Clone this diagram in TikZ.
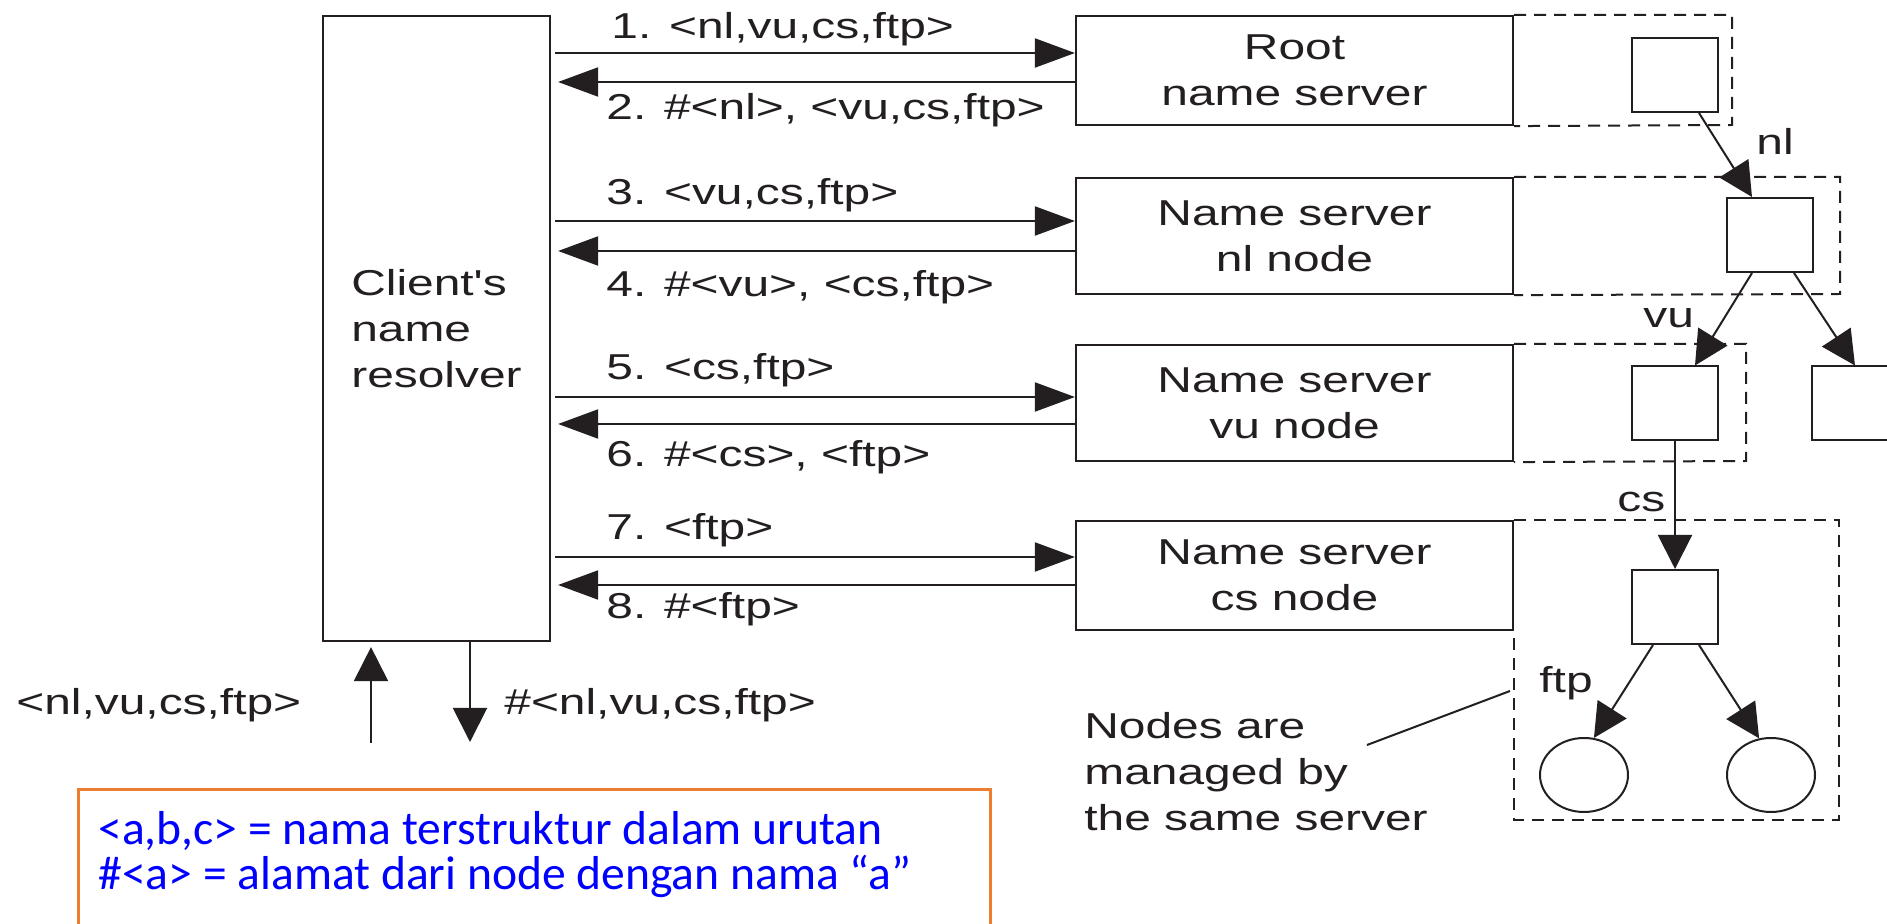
\documentclass[tikz,border=0pt]{standalone}
\usepackage{fontspec}
\setmainfont{Liberation Sans}
\newfontfamily\diagfont[FakeStretch=1.33]{Liberation Sans}
\newfontfamily\notefont{Carlito}
\usetikzlibrary{arrows.meta,shapes.geometric}
\definecolor{ink}{HTML}{231F20}
\definecolor{noteblue}{HTML}{0000FF}
\definecolor{noteorange}{HTML}{ED7D31}

\begin{document}
\begin{tikzpicture}[x=0.5pt,y=-0.5pt,
  diag/.style={font=\diagfont\fontsize{18}{23}\selectfont, text=ink},
  lbl/.style={diag, inner sep=0pt},
  box/.style={draw=ink, line width=1.1pt, diag, inner sep=0pt},
  srv/.style={box, minimum width=218.5pt, align=center},
  tnode/.style={draw=ink, line width=1pt, minimum width=43pt, minimum height=37pt, inner sep=0pt},
  leaf/.style={draw=ink, line width=1pt, ellipse, minimum width=44pt, minimum height=37pt, inner sep=0pt},
  harr/.style={draw=ink, line width=1pt, -{Triangle[length=20pt,width=14.5pt]}},
  varr/.style={draw=ink, line width=1pt, -{Triangle[length=17pt,width=17pt]}},
  grp/.style={draw=ink, line width=1pt, dash pattern=on 6pt off 4pt},
  note/.style={font=\notefont\fontsize{23.8}{22.5}\selectfont, text=noteblue, inner sep=0pt}]

\useasboundingbox (0,0) rectangle (1887,924);
\fill[white] (0,0) rectangle (1887,924);
\clip (0,0) rectangle (1887,924);

% client resolver
\node[box, minimum width=113.5pt, minimum height=312.5pt, align=left] (client) at (436.5,328.5) {Client's\\name\\resolver};

% name servers
\node[srv, minimum height=54.5pt] (root)  at (1294.5,70.5)  {Root\\name server};
\node[srv, minimum height=58pt]   (nlsrv) at (1294.5,236)   {Name server\\nl node};
\node[srv, minimum height=58pt]   (vusrv) at (1294.5,403)   {Name server\\vu node};
\node[srv, minimum height=54.5pt] (cssrv) at (1294.5,575.5) {Name server\\cs node};

% request / reply levels
\coordinate (a1) at (1076,53);  \coordinate (b1) at (1076,82);
\coordinate (a2) at (1076,221); \coordinate (b2) at (1076,251);
\coordinate (a3) at (1076,397); \coordinate (b3) at (1076,424);
\coordinate (a4) at (1076,557); \coordinate (b4) at (1076,585);

\draw[harr, shorten <=2pt] (client.east |- a1) -- (root.west |- a1);
\draw[harr, shorten >=3.5pt] (root.west |- b1) -- (client.east |- b1);
\draw[harr, shorten <=2pt] (client.east |- a2) -- (nlsrv.west |- a2);
\draw[harr, shorten >=3.5pt] (nlsrv.west |- b2) -- (client.east |- b2);
\draw[harr, shorten <=2pt] (client.east |- a3) -- (vusrv.west |- a3);
\draw[harr, shorten >=3.5pt] (vusrv.west |- b3) -- (client.east |- b3);
\draw[harr, shorten <=2pt] (client.east |- a4) -- (cssrv.west |- a4);
\draw[harr, shorten >=3.5pt] (cssrv.west |- b4) -- (client.east |- b4);

\node[lbl, anchor=base west] (l1) at (611,39)  {1. <nl,vu,cs,ftp>};
\node[lbl, anchor=base west] (l2) at (606,120) {2. \#<nl>, <vu,cs,ftp>};
\node[lbl, anchor=base west] (l3) at (606,205) {3. <vu,cs,ftp>};
\node[lbl, anchor=base west] (l4) at (606,297) {4. \#<vu>, <cs,ftp>};
\node[lbl, anchor=base west] (l5) at (606,380) {5. <cs,ftp>};
\node[lbl, anchor=base west] (l6) at (606,467) {6. \#<cs>, <ftp>};
\node[lbl, anchor=base west] (l7) at (606,540) {7. <ftp>};
\node[lbl, anchor=base west] (l8) at (606,619) {8. \#<ftp>};

% name space tree
\node[tnode] (t1)  at (1675,75)    {};
\node[tnode] (t2)  at (1769.5,235) {};
\node[tnode] (t3)  at (1675,403.5) {};
\node[tnode] (t3b) at (1855,403.5) {};
\node[tnode] (t4)  at (1675,607)   {};
\node[leaf]  (e1)  at (1584,775)   {};
\node[leaf]  (e2)  at (1771,775)   {};

\draw[varr] ([xshift=12pt]t1.south) -- ([xshift=-8.75pt]t2.north);
\draw[varr] ([xshift=-8.75pt]t2.south) -- ([xshift=10pt]t3.north);
\draw[varr] ([xshift=12.25pt]t2.south) -- (t3b.north);
\draw[varr] (t3.south) -- (t4.north);
\draw[varr] ([xshift=-11pt]t4.south) -- (e1.75);
\draw[varr] ([xshift=12pt]t4.south) -- (e2.108);

\node[lbl, anchor=base west] (nnl)  at (1756,155) {nl};
\node[lbl, anchor=base west] (nvu)  at (1643,328) {vu};
\node[lbl, anchor=base west] (ncs)  at (1617,512) {cs};
\node[lbl, anchor=base west] (nftp) at (1539,693) {ftp};

% parts of the name space held by one server
\coordinate (g1) at (1732,125);
\coordinate (g2) at (1840,294);
\coordinate (g3) at (1746,461);
\coordinate (g4) at (1839,820);
\draw[grp] (root.north east) -| (g1) -- (root.south east);
\draw[grp] (nlsrv.north east) -| (g2) -- (nlsrv.south east);
\draw[grp] (vusrv.north east) -| (g3) -- (vusrv.south east);
\draw[grp] (cssrv.north east) -| (g4) -| (cssrv.south east);

% annotation
\node[lbl, anchor=west, align=left] (remark) at (1084,772) {Nodes are\\managed by\\the same server};
\coordinate (ldA) at (1367,745);
\coordinate (ldB) at (1510,691);
\draw[ink, line width=1pt] (ldA) -- (ldB);

% input name and returned address
\coordinate (inq) at (371,743);
\coordinate (outq) at (470,742);
\draw[varr, shorten >=2.5pt] (inq) -- (client.south -| inq);
\draw[varr] (client.south -| outq) -- (outq);
\node[lbl, anchor=base west] (qin)  at (16,715)  {<nl,vu,cs,ftp>};
\node[lbl, anchor=base west] (qout) at (504,715) {\#<nl,vu,cs,ftp>};

% legend
\draw[noteorange, line width=1.5pt] (78,960) -- (78,790) -- (990,790) -- (990,960);
\node[note, anchor=base west] (legend1) at (98,845) {<a,b,c> = nama terstruktur dalam urutan};
\node[note, anchor=base west] (legend2) at (98,890) {\#<a> = alamat dari node dengan nama “a”};

\end{tikzpicture}
\end{document}
